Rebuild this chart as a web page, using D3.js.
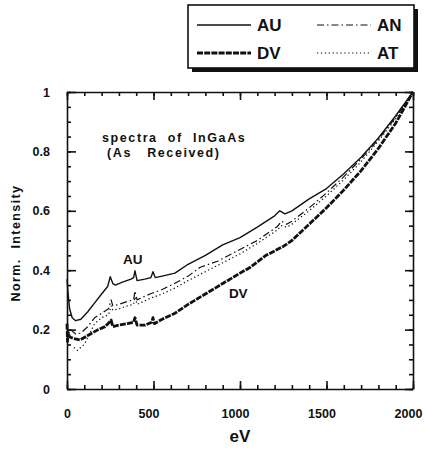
<!DOCTYPE html>
<html>
<head>
<meta charset="utf-8">
<script src="https://cdn.jsdelivr.net/npm/d3@7"></script>
<style>
  body { margin: 0; background: #fff; }
  svg text { font-family: "Liberation Sans", Arial, sans-serif; font-weight: bold; fill: #111; white-space: pre; }
  .axis path, .axis line { stroke: #111; stroke-width: 1.6; }
</style>
</head>
<body>
<svg id="chart" width="425" height="450"></svg>
<script>
// spectra: [eV, normalized intensity]
const auData = [[0,0.37],[5,0.33],[15,0.27],[30,0.24],[50,0.23],[80,0.235],[120,0.26],[160,0.29],[200,0.32],[235,0.345],[250,0.378],[265,0.355],[280,0.35],[320,0.36],[370,0.37],[385,0.375],[393,0.398],[405,0.365],[450,0.37],[485,0.375],[497,0.395],[510,0.375],[550,0.38],[624,0.39],[700,0.42],[800,0.45],[900,0.485],[1000,0.51],[1100,0.545],[1200,0.583],[1230,0.60],[1260,0.59],[1300,0.60],[1400,0.64],[1500,0.675],[1600,0.725],[1700,0.78],[1800,0.845],[1900,0.92],[2000,1.0]];
const dvData = [[0,0.22],[3,0.16],[8,0.19],[15,0.175],[40,0.17],[75,0.165],[120,0.18],[180,0.2],[220,0.21],[245,0.225],[255,0.232],[265,0.21],[300,0.215],[350,0.22],[385,0.225],[393,0.24],[405,0.215],[450,0.215],[490,0.225],[497,0.24],[505,0.22],[550,0.235],[624,0.255],[700,0.285],[800,0.32],[900,0.355],[1000,0.39],[1060,0.41],[1150,0.45],[1250,0.48],[1300,0.50],[1400,0.555],[1500,0.61],[1600,0.67],[1700,0.735],[1800,0.81],[1900,0.895],[2000,1.0]];
const anData = [[20,0.2],[50,0.185],[80,0.188],[120,0.21],[160,0.24],[200,0.255],[240,0.27],[255,0.30],[265,0.28],[300,0.285],[350,0.295],[385,0.30],[393,0.33],[405,0.30],[480,0.32],[550,0.335],[624,0.356],[700,0.38],[770,0.41],[870,0.43],[1000,0.47],[1100,0.50],[1214,0.546],[1240,0.565],[1270,0.555],[1300,0.565],[1400,0.61],[1500,0.66],[1600,0.715],[1700,0.775],[1800,0.84],[1900,0.915],[2000,1.0]];
const atData = [[40,0.14],[60,0.13],[100,0.15],[160,0.22],[200,0.24],[240,0.25],[255,0.28],[265,0.265],[300,0.27],[350,0.28],[385,0.285],[393,0.31],[405,0.285],[480,0.305],[550,0.32],[624,0.34],[700,0.365],[800,0.395],[900,0.425],[1000,0.455],[1100,0.49],[1214,0.535],[1240,0.55],[1270,0.545],[1300,0.555],[1400,0.6],[1500,0.65],[1600,0.705],[1700,0.765],[1800,0.835],[1900,0.91],[2000,1.0]];

const seriesNames = ["AU", "AN", "DV", "AT"];
const xMajorTicks = [0, 500, 1000, 1500, 2000];
const yMajorTicks = [0, 0.2, 0.4, 0.6, 0.8, 1];

// line style per series
const styles = {
    AU: {data: auData, width: 1.4, dash: null},
    AN: {data: anData, width: 1.2, dash: "7,3,1.5,3"},
    DV: {data: dvData, width: 2.8, dash: "6,1.2"},
    AT: {data: atData, width: 1.2, dash: "1.3,2.6"}
};

const margin = {top: 92, left: 67};
const width = 346, height = 297;

const svg = d3.select("#chart");
const g = svg.append("g").attr("transform", `translate(${margin.left},${margin.top})`);

const x = d3.scaleLinear().domain([0, 2000]).range([0, width]);
const y = d3.scaleLinear().domain([0, 1]).range([height, 0]);

const minorX = d3.range(0, 2001, 100);
const minorY = d3.range(0, 1.001, 0.05);

// axes - all ticks point inward
g.append("g").attr("class", "axis").attr("transform", `translate(0,${height})`)
    .call(d3.axisBottom(x).tickValues(minorX).tickSize(-4).tickSizeOuter(0).tickFormat(""));
g.append("g").attr("class", "axis").attr("transform", `translate(0,${height})`)
    .call(d3.axisBottom(x).tickValues(xMajorTicks).tickSize(-8).tickSizeOuter(0).tickPadding(20)
        .tickFormat(d3.format("d")))
    .call(a => a.select(".domain").remove())
    .selectAll("text").attr("font-size", 12.5).attr("dx", d => d ? -5 : 0);

g.append("g").attr("class", "axis")
    .call(d3.axisTop(x).tickValues(minorX).tickSize(-4).tickSizeOuter(0).tickFormat(""));
g.append("g").attr("class", "axis")
    .call(d3.axisTop(x).tickValues(xMajorTicks).tickSize(-8).tickSizeOuter(0).tickFormat(""))
    .call(a => a.select(".domain").remove());

g.append("g").attr("class", "axis")
    .call(d3.axisLeft(y).tickValues(minorY).tickSize(-4).tickSizeOuter(0).tickFormat(""));
g.append("g").attr("class", "axis")
    .call(d3.axisLeft(y).tickValues(yMajorTicks).tickSize(-9).tickSizeOuter(0).tickPadding(17)
        .tickFormat(d => String(+d.toFixed(1))))
    .call(a => a.select(".domain").remove())
    .selectAll("text").attr("font-size", 12.5);

g.append("g").attr("class", "axis").attr("transform", `translate(${width},0)`)
    .call(d3.axisRight(y).tickValues(minorY).tickSize(-4).tickSizeOuter(0).tickFormat(""));
g.append("g").attr("class", "axis").attr("transform", `translate(${width},0)`)
    .call(d3.axisRight(y).tickValues(yMajorTicks).tickSize(-8).tickSizeOuter(0).tickFormat(""))
    .call(a => a.select(".domain").remove());

// curves
const line = d3.line().x(d => x(d[0])).y(d => y(d[1])).curve(d3.curveLinear);

seriesNames.forEach(name => {
    const s = styles[name];
    g.append("path")
        .datum(s.data)
        .attr("d", line)
        .attr("fill", "none")
        .attr("stroke", "#111")
        .attr("stroke-width", s.width)
        .attr("stroke-dasharray", s.dash)
        .attr("stroke-linejoin", "round");
});

// axis titles
svg.append("text").attr("x", 240).attr("y", 442).attr("text-anchor", "middle")
    .attr("font-size", 17).text("eV");
svg.append("text").attr("transform", "translate(20,243) rotate(-90)").attr("text-anchor", "middle")
    .attr("font-size", 12.5).attr("letter-spacing", 1.4).text("Norm.  Intensity");

// annotations inside the plot
svg.append("text").attr("x", 102).attr("y", 142).attr("font-size", 12.5).attr("letter-spacing", 1.6)
    .text("spectra  of  InGaAs");
svg.append("text").attr("x", 107).attr("y", 157).attr("font-size", 12.5).attr("letter-spacing", 1.6)
    .text("(As   Received)");
g.append("text").attr("x", x(380)).attr("y", y(0.42)).attr("text-anchor", "middle")
    .attr("font-size", 13.5).text("AU");
g.append("text").attr("x", x(990)).attr("y", y(0.305)).attr("text-anchor", "middle")
    .attr("font-size", 13.5).text("DV");

// legend box with drop shadow
const legend = svg.append("g");
legend.append("rect").attr("x", 192).attr("y", 9).attr("width", 226).attr("height", 63).attr("fill", "#111");
legend.append("rect").attr("x", 188).attr("y", 5).attr("width", 226).attr("height", 63)
    .attr("fill", "#fff").attr("stroke", "#111").attr("stroke-width", 1.6);

const legendPos = {
    AU: [197, 25], AN: [317, 25],
    DV: [197, 53], AT: [317, 53]
};
seriesNames.forEach(name => {
    const s = styles[name], p = legendPos[name];
    legend.append("line")
        .attr("x1", p[0]).attr("x2", p[0] + 54)
        .attr("y1", p[1]).attr("y2", p[1])
        .attr("stroke", "#111")
        .attr("stroke-width", s.width)
        .attr("stroke-dasharray", s.dash);
    legend.append("text").attr("x", p[0] + 60).attr("y", p[1] + 6)
        .attr("font-size", 17).text(name);
});
</script>
</body>
</html>
